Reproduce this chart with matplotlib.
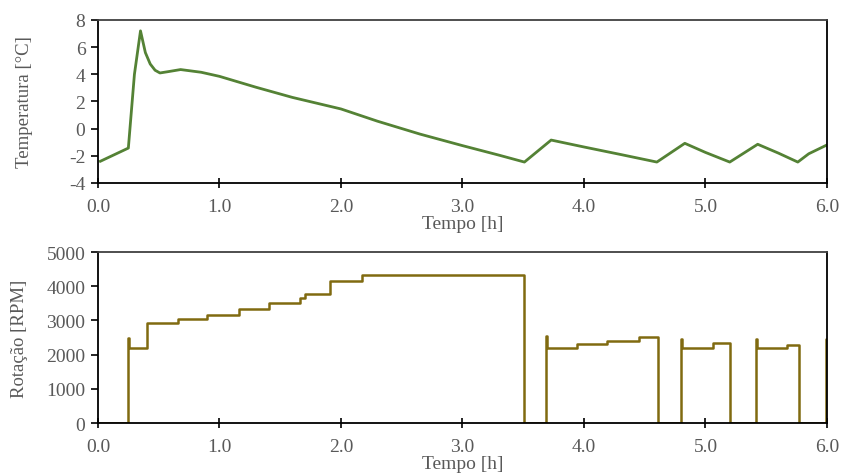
import matplotlib.pyplot as plt
import numpy as np

plt.rcParams['font.family'] = ['Liberation Serif', 'DejaVu Serif']
plt.rcParams['axes.unicode_minus'] = False

# temperature curve (h, degC)
temp_t = [0.02, 0.25, 0.30, 0.35, 0.39, 0.43, 0.47, 0.51, 0.58, 0.68, 0.85, 1.0,
          1.3, 1.6, 2.0, 2.3, 2.65, 3.0, 3.3, 3.51, 3.73, 4.0, 4.3, 4.60,
          4.83, 5.0, 5.20, 5.43, 5.60, 5.76, 5.85, 6.0]
temp_v = [-2.4, -1.43, 4.0, 7.2, 5.6, 4.76, 4.3, 4.1, 4.2, 4.35, 4.15, 3.85,
          3.05, 2.3, 1.45, 0.55, -0.4, -1.25, -1.95, -2.46, -0.84, -1.35, -1.9, -2.46,
          -1.08, -1.75, -2.46, -1.15, -1.8, -2.46, -1.85, -1.2]

# rotation steps (h, RPM); each value holds until the next time
rot_t = [0.0, 0.25, 0.255, 0.40, 0.66, 0.90, 1.16, 1.41, 1.66, 1.70, 1.91, 2.17, 3.51,
         3.69, 3.695, 3.94, 4.19, 4.45, 4.61,
         4.80, 4.805, 5.06, 5.20,
         5.42, 5.425, 5.67, 5.77, 5.995, 6.0]
rot_v = [0, 2500, 2200, 2930, 3030, 3160, 3330, 3500, 3650, 3760, 4160, 4340, 0,
         2530, 2200, 2310, 2410, 2510, 0,
         2450, 2200, 2340, 0,
         2450, 2200, 2270, 0, 2450, 2450]

temp_ticks = [-4, -2, 0, 2, 4, 6, 8]
rot_ticks = [0, 1000, 2000, 3000, 4000, 5000]
x_ticks = [0, 1, 2, 3, 4, 5, 6]

gray = '#595959'
fig = plt.figure(figsize=(8.41, 4.77), dpi=100)
ax1 = fig.add_axes([0.1165, 0.6143, 0.8668, 0.3417])
ax2 = fig.add_axes([0.1165, 0.1111, 0.8668, 0.3585])

ax1.plot(temp_t, temp_v, color='#548235', lw=2)
ax2.step(rot_t, rot_v, where='post', color='#806a10', lw=1.8)

ax1.set_ylim(-4, 8)
ax1.set_yticks(temp_ticks)
ax1.set_ylabel('Temperatura [°C]', color=gray, fontsize=13.5)
ax1.yaxis.set_label_coords(-0.089, 0.5)
ax2.set_ylim(0, 5000)
ax2.set_yticks(rot_ticks)
ax2.set_ylabel('Rotação [RPM]', color=gray, fontsize=13.5)
ax2.yaxis.set_label_coords(-0.096, 0.5)

for ax in (ax1, ax2):
    ax.set_xlim(0, 6)
    ax.set_xticks(x_ticks)
    ax.set_xticklabels([f'{v:.1f}' for v in x_ticks])
    ax.set_xlabel('Tempo [h]', color=gray, fontsize=14, labelpad=0)
    ax.tick_params(direction='inout', length=7, width=1.2, labelsize=14,
                   labelcolor=gray, pad=7)
    ax.tick_params(axis='y', direction='out', length=5, pad=4)
    for s in ('left', 'bottom', 'right'):
        ax.spines[s].set_linewidth(1.3)
        ax.spines[s].set_color('black')
    ax.spines['top'].set_color('#404040')
    ax.spines['top'].set_linewidth(1.3)

plt.savefig('out.png', dpi=100)
